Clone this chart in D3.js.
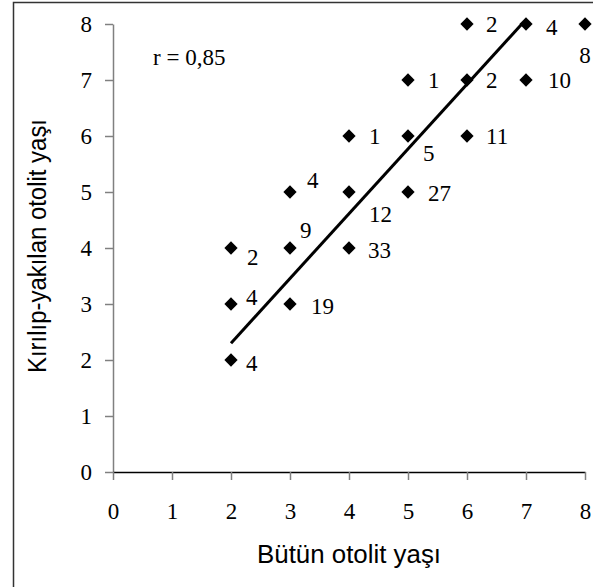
<!DOCTYPE html>
<html>
<head>
<meta charset="utf-8">
<script src="https://cdn.jsdelivr.net/npm/d3@7"></script>
<style>
  body { margin: 0; background: #fff; }
  svg { display: block; }
</style>
</head>
<body>
<div id="chart"></div>
<script>
// veri: bütün otolit yaşı (x), kırılıp-yakılan otolit yaşı (y), birey sayısı
var xAge   = [2, 2, 2, 3, 3, 3, 4, 4, 4, 5, 5, 5, 6, 6, 6, 7, 7, 8];
var yAge   = [2, 3, 4, 3, 4, 5, 4, 5, 6, 5, 6, 7, 6, 7, 8, 7, 8, 8];
var counts = [4, 4, 2, 19, 9, 4, 33, 12, 1, 27, 5, 1, 11, 2, 2, 10, 4, 8];

// regresyon doğrusu (uç noktaları)
var trendX = [2, 6.93];
var trendY = [2.3, 8];

var xTicks = [0, 1, 2, 3, 4, 5, 6, 7, 8];
var yTicks = [0, 1, 2, 3, 4, 5, 6, 7, 8];
var rLabel = "r = 0,85";

// etiketlerin kaydırılması (yerleşim, veri değil)
var labelOffsets = [
  [15, 3], [15, -7], [16, 9], [21, 2], [10, -18], [17, -12],
  [19, 2], [20, 22], [20, 0], [20, 1], [15, 17], [20, 0],
  [19, 0], [19, 0], [19, 0], [22, 0], [20, 3], [0, 31]
];

var width = 593;
var height = 587;
var serif = "'Liberation Serif', 'Times New Roman', serif";
var sans = "'Liberation Sans', Arial, sans-serif";

var svg = d3.select("#chart")
            .append("svg")
            .attr("width", width)
            .attr("height", height);

// dış çerçeve (sağ ve alt kenar resmin dışında)
svg.append("rect")
   .attr("x", 13.5)
   .attr("y", 2.5)
   .attr("width", 700)
   .attr("height", 700)
   .attr("fill", "none")
   .attr("stroke", "#333")
   .attr("stroke-width", 1.5);

var x = d3.scaleLinear().domain([0, 8]).range([113, 585]);
var y = d3.scaleLinear().domain([0, 8]).range([472, 24]);

// y ekseni
var yAxis = svg.append("g")
               .attr("transform", "translate(" + x(0) + ",0)")
               .call(d3.axisLeft(y).tickValues(yTicks).tickSize(8).tickPadding(13).tickSizeOuter(0));
yAxis.select(".domain").attr("stroke", "#808080").attr("stroke-width", 1.5);
yAxis.selectAll(".tick line").attr("stroke", "#808080").attr("stroke-width", 1.5);
yAxis.selectAll(".tick text")
     .attr("font-family", serif)
     .attr("font-size", 23)
     .attr("fill", "#000");

// x ekseni
var xAxis = svg.append("g")
               .attr("transform", "translate(0," + y(0) + ")")
               .call(d3.axisBottom(x).tickValues(xTicks).tickSize(8).tickPadding(23).tickSizeOuter(0));
xAxis.select(".domain").attr("stroke", "#000").attr("stroke-width", 1.5);
xAxis.selectAll(".tick line").attr("stroke", "#808080").attr("stroke-width", 1.5);
xAxis.selectAll(".tick text")
     .attr("font-family", serif)
     .attr("font-size", 23)
     .attr("fill", "#000");

// eksen başlıkları
svg.append("text")
   .attr("x", (x(0) + x(8)) / 2)
   .attr("y", 563)
   .attr("text-anchor", "middle")
   .attr("font-family", sans)
   .attr("font-size", 25)
   .attr("textLength", 184)
   .attr("lengthAdjust", "spacingAndGlyphs")
   .text("Bütün otolit yaşı");

svg.append("text")
   .attr("transform", "translate(46," + 246 + ") rotate(-90)")
   .attr("text-anchor", "middle")
   .attr("font-family", sans)
   .attr("font-size", 25)
   .attr("textLength", 254)
   .attr("lengthAdjust", "spacingAndGlyphs")
   .text("Kırılıp-yakılan otolit yaşı");

// regresyon doğrusu
svg.append("path")
   .datum(d3.zip(trendX, trendY))
   .attr("d", d3.line().x(function(d) { return x(d[0]); }).y(function(d) { return y(d[1]); }))
   .attr("stroke", "#000")
   .attr("stroke-width", 3)
   .attr("fill", "none");

// noktalar
var points = d3.range(xAge.length).map(function(i) {
  return { x: xAge[i], y: yAge[i], n: counts[i], off: labelOffsets[i] };
});

var diamond = d3.symbol().type(d3.symbolSquare).size(88);

svg.append("g")
   .selectAll("path")
   .data(points)
   .enter()
   .append("path")
   .attr("d", diamond)
   .attr("transform", function(d) { return "translate(" + x(d.x) + "," + y(d.y) + ") rotate(45)"; })
   .attr("fill", "#000");

svg.append("g")
   .selectAll("text")
   .data(points)
   .enter()
   .append("text")
   .attr("x", function(d) { return x(d.x) + d.off[0]; })
   .attr("y", function(d) { return y(d.y) + d.off[1]; })
   .attr("dominant-baseline", "central")
   .attr("text-anchor", function(d) { return d.off[0] === 0 ? "middle" : "start"; })
   .attr("font-family", serif)
   .attr("font-size", 23)
   .text(function(d) { return d.n; });

// korelasyon katsayısı
svg.append("text")
   .attr("x", 153)
   .attr("y", 65)
   .attr("font-family", serif)
   .attr("font-size", 23)
   .text(rLabel);
</script>
</body>
</html>
